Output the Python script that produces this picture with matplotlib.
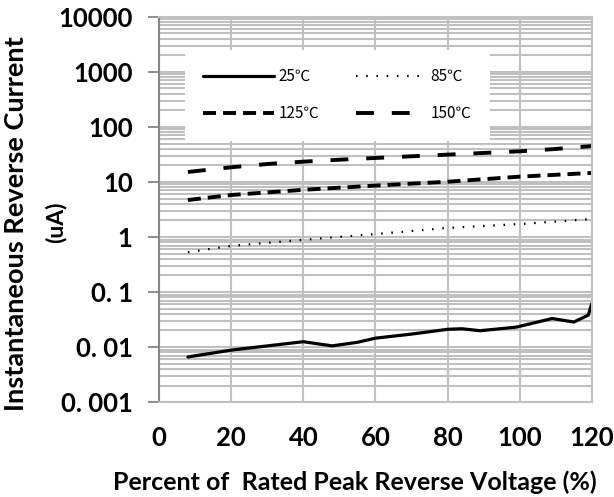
import numpy as np
import matplotlib
matplotlib.use("Agg")
import matplotlib.pyplot as plt
from matplotlib.ticker import LogLocator, FixedLocator, FixedFormatter, NullFormatter

# percent of rated peak reverse voltage vs. reverse current (uA)
x_25 = [8, 20, 40, 48, 55, 60, 70, 80, 84, 89, 99, 109, 115, 119, 120]
i_25 = [0.0066, 0.0088, 0.0125, 0.0105, 0.0122, 0.0145, 0.0172, 0.021, 0.0215,
        0.0198, 0.023, 0.033, 0.0285, 0.038, 0.062]

x_85 = [8, 20, 40, 60, 80, 100, 120]
i_85 = [0.53, 0.69, 0.89, 1.13, 1.46, 1.72, 2.12]

x_125 = [8, 20, 40, 60, 80, 100, 120]
i_125 = [4.7, 5.8, 7.2, 8.6, 10.1, 12.5, 14.6]

x_150 = [8, 20, 30, 40, 50, 60, 70, 80, 90, 100, 110, 120]
i_150 = [15.2, 18.5, 21.2, 23.4, 25.4, 27.3, 29.3, 31.4, 33.7, 36.1, 39.8, 45]

x_ticks = [0, 20, 40, 60, 80, 100, 120]
y_ticks = [0.001, 0.01, 0.1, 1, 10, 100, 1000, 10000]
y_labels = ["0. 001", "0. 01", "0. 1", "1", "10", "100", "1000", "10000"]

grid_c = "#c0c0c0"
axis_c = "#868686"
lab_font = "Lato"
leg_font = ["Noto Sans CJK SC", "DejaVu Sans"]

fig = plt.figure(figsize=(6.14, 4.97), dpi=100)
ax = fig.add_axes([0.259, 0.191, 0.705, 0.775])

ax.set_yscale("log")
ax.set_xlim(0, 120)
ax.set_ylim(0.001, 10000)

l25, = ax.plot(x_25, i_25, color="black", lw=2.3, solid_capstyle="round")
l85, = ax.plot(x_85, i_85, color="black", lw=1.6, linestyle=(0, (0.7, 3.9)))
l125, = ax.plot(x_125, i_125, color="black", lw=2.8, linestyle=(0, (3.35, 1.8)))
l150, = ax.plot(x_150, i_150, color="black", lw=2.8, linestyle=(0, (4.6, 4.6)))

ax.xaxis.set_major_locator(FixedLocator(x_ticks))
ax.yaxis.set_major_locator(FixedLocator(y_ticks))
ax.yaxis.set_major_formatter(FixedFormatter(y_labels))
ax.yaxis.set_minor_locator(LogLocator(base=10, subs=np.arange(2, 10), numticks=20))
ax.yaxis.set_minor_formatter(NullFormatter())

ax.set_axisbelow(True)
ax.grid(which="major", color=grid_c, lw=1.5)
ax.grid(which="minor", axis="y", color=grid_c, lw=1.5)

for s in ["top", "right", "bottom"]:
    ax.spines[s].set_color(grid_c)
    ax.spines[s].set_linewidth(1.5)
ax.spines["left"].set_color(axis_c)
ax.spines["left"].set_linewidth(1.5)

ax.tick_params(axis="x", length=0, pad=17)
ax.tick_params(axis="y", which="major", length=8, width=1.3, color=axis_c, pad=11)
ax.tick_params(axis="y", which="minor", length=0)
for t in ax.get_xticklabels() + ax.get_yticklabels():
    t.set_fontfamily(lab_font)
    t.set_fontweight("bold")
    t.set_fontsize(18.5)

ax.set_xlabel("Percent of  Rated Peak Reverse Voltage (%)", fontfamily=lab_font,
              fontweight="bold", fontsize=18)
ax.xaxis.label.set_va("center")
ax.xaxis.set_label_coords(0.452, -0.208)

fig.text(0.026, 0.551, "Instantaneous Reverse Current", rotation=90, ha="center",
         va="center", fontfamily=lab_font, fontweight="bold", fontsize=19.5)
fig.text(0.090, 0.553, "(uA)", rotation=90, ha="center", va="center",
         fontfamily=lab_font, fontweight="bold", fontsize=16.5)

leg = ax.legend([l25, l125, l85, l150], ["25℃", "125℃", "85℃", "150℃"], ncol=2,
                loc="upper left", bbox_to_anchor=(0.06, 0.699, 0.704, 0.215),
                mode="expand", handlelength=4.6, handletextpad=0.3,
                labelspacing=1.3, columnspacing=1.7, borderpad=1.2,
                borderaxespad=0, prop={"family": leg_font, "size": 11},
                frameon=True, fancybox=False, framealpha=1)
leg.get_frame().set_edgecolor("white")
leg.get_frame().set_linewidth(0)

fig.savefig("out.png", dpi=100, facecolor="white")
